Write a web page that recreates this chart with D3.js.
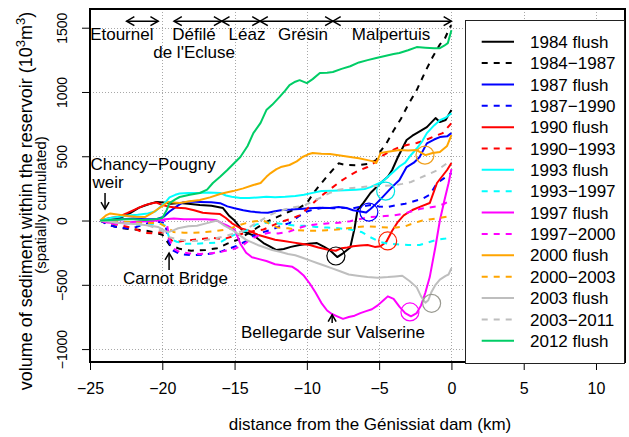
<!DOCTYPE html>
<html>
<head>
<meta charset="utf-8">
<script src="https://cdn.jsdelivr.net/npm/d3@7"></script>
<style>
body { margin: 0; background: #fff; }
text { font-family: "Liberation Sans", Arial, sans-serif; }
</style>
</head>
<body>
<div id="chart"></div>
<script>
// legend labels, in drawing order
const labels = ["1984 flush", "1984\u22121987", "1987 flush", "1987\u22121990", "1990 flush", "1990\u22121993",
  "1993 flush", "1993\u22121997", "1997 flush", "1997\u22122000", "2000 flush", "2000\u22122003",
  "2003 flush", "2003\u22122011", "2012 flush"];
const kmTicks = [-25, -20, -15, -10, -5, 0, 5, 10];
const volTicks = [-1000, -500, 0, 500, 1000, 1500];

// [distance km, cumulated volume 10^3 m3]
const flush1984 = [[-24.3,0],[-23.6,10],[-22.9,20],[-22.2,60],[-21.6,100],[-21.0,125],[-20.4,145],[-19.9,140],[-19.4,130],[-18.8,136],[-18.2,130],[-17.4,120],[-16.6,115],[-15.8,97],[-15.4,40],[-15.0,0],[-14.4,-85],[-13.7,-115],[-13.0,-175],[-12.6,-200],[-12.1,-230],[-11.6,-222],[-11.1,-205],[-10.5,-190],[-9.9,-180],[-9.3,-175],[-8.8,-205],[-8.4,-232],[-7.9,-284],[-7.5,-255],[-7.0,-210],[-6.7,-60],[-6.5,80],[-6.1,136],[-5.6,214],[-4.9,292],[-4.4,340],[-4.1,393],[-3.7,494],[-3.1,626],[-2.7,660],[-2.4,680],[-1.7,727],[-1.1,797],[-0.8,766],[-0.4,782],[0,859]];
const int1984 = [[-24.3,0],[-23.5,-40],[-22.8,-60],[-22.0,-70],[-21.3,-75],[-20.6,-90],[-20.0,-110],[-19.5,-190],[-18.8,-220],[-18.0,-235],[-17.0,-230],[-16.2,-215],[-15.5,-180],[-14.8,-150],[-14.2,-110],[-13.5,-60],[-12.8,-10],[-12.0,30],[-11.2,70],[-10.5,100],[-10.0,136],[-9.5,220],[-9.0,290],[-8.4,370],[-7.8,445],[-7.3,432],[-6.5,430],[-5.8,440],[-5.2,470],[-4.9,540],[-4.5,600],[-4.0,700],[-3.5,790],[-3.0,900],[-2.4,1015],[-1.8,1160],[-1.3,1272],[-0.8,1370],[-0.5,1404],[-0.1,1505],[0,1520]];
const flush1987 = [[-24.3,0],[-23.6,5],[-22.8,10],[-22.0,15],[-21.2,10],[-20.4,10],[-19.9,30],[-19.5,70],[-19.0,110],[-18.6,140],[-18.0,148],[-17.4,145],[-16.6,142],[-16.0,135],[-15.5,110],[-15.0,95],[-14.4,80],[-13.9,70],[-13.2,62],[-12.7,60],[-12.2,72],[-11.7,82],[-11.1,85],[-10.5,90],[-9.8,95],[-9.1,100],[-8.4,98],[-7.8,105],[-7.2,95],[-6.8,80],[-6.3,70],[-5.9,62],[-5.6,90],[-5.3,120],[-4.7,190],[-4.2,250],[-3.6,315],[-3.1,416],[-2.6,450],[-2.2,494],[-1.7,600],[-1.2,630],[-0.8,649],[-0.3,655],[0,680]];
const int1987 = [[-24.3,0],[-23.8,-30],[-23.2,-50],[-22.5,-60],[-21.8,-50],[-21.0,-20],[-20.3,-10],[-19.8,-20],[-19.6,-150],[-19.3,-230],[-18.8,-260],[-18.0,-270],[-17.2,-265],[-16.5,-255],[-15.9,-240],[-15.4,-220],[-14.8,-195],[-14.2,-160],[-13.6,-110],[-13.0,-90],[-12.4,-70],[-11.8,-40],[-11.2,-20],[-10.6,30],[-10.0,70],[-9.4,90],[-8.8,100],[-8.2,95],[-7.5,100],[-6.8,95],[-6.2,110],[-5.6,120],[-5.0,110],[-4.4,105],[-3.8,120],[-3.2,130],[-2.6,150],[-2.0,170],[-1.5,200],[-1.0,290],[-0.5,330],[0,370]];
const flush1990 = [[-24.3,0],[-23.6,20],[-23.0,30],[-22.4,60],[-21.8,90],[-21.2,120],[-20.7,135],[-20.4,140],[-20.0,120],[-19.6,110],[-19.0,100],[-18.4,95],[-17.8,80],[-17.2,60],[-16.6,55],[-16.0,50],[-15.6,20],[-15.2,-20],[-14.6,-60],[-14.0,-80],[-13.4,-110],[-12.8,-130],[-12.2,-150],[-11.6,-160],[-11.0,-170],[-10.4,-180],[-9.8,-190],[-9.2,-210],[-8.6,-225],[-8.0,-235],[-7.6,-215],[-7.2,-210],[-6.8,-200],[-6.3,-195],[-5.8,-190],[-5.3,-205],[-4.9,-200],[-4.5,-165],[-4.1,-80],[-3.7,-10],[-3.3,40],[-2.7,82],[-2.1,110],[-1.5,136],[-1.0,292],[-0.3,393],[0,447]];
const int1990 = [[-24.3,0],[-23.6,-20],[-22.8,-40],[-22.0,-60],[-21.3,-95],[-20.6,-100],[-20.0,-90],[-19.6,-130],[-19.2,-170],[-18.6,-160],[-17.8,-150],[-17.0,-140],[-16.5,-135],[-15.8,-145],[-15.0,-120],[-14.2,-95],[-13.6,-80],[-13.0,-70],[-12.4,-40],[-11.8,-10],[-11.2,10],[-10.5,40],[-9.8,110],[-9.1,183],[-8.2,260],[-7.6,310],[-7.0,354],[-6.4,390],[-5.8,416],[-5.2,460],[-4.7,509],[-4.2,540],[-3.6,572],[-3.0,590],[-2.4,603],[-1.8,625],[-1.3,650],[-0.6,680],[0,758]];
const flush1993 = [[-24.3,0],[-23.6,20],[-23.0,30],[-22.4,40],[-21.7,45],[-21.0,55],[-20.5,70],[-20.2,100],[-19.8,140],[-19.5,180],[-19.1,200],[-18.8,210],[-18.2,215],[-17.5,215],[-16.8,218],[-16.0,215],[-15.6,195],[-15.2,185],[-14.6,175],[-14.0,175],[-13.4,180],[-12.8,185],[-12.2,182],[-11.5,185],[-10.8,190],[-10.2,200],[-9.6,215],[-9.0,230],[-8.2,232],[-7.4,235],[-6.6,240],[-6.0,245],[-5.6,260],[-5.2,280],[-4.8,300],[-4.4,340],[-4.0,380],[-3.6,420],[-3.2,450],[-2.8,510],[-2.4,560],[-2.0,620],[-1.7,680],[-1.2,740],[-0.8,780],[-0.4,800],[0,835]];
const int1993 = [[-24.3,0],[-23.5,-10],[-22.6,-20],[-21.8,-30],[-21.0,-30],[-20.2,-20],[-19.8,-40],[-19.5,-140],[-19.0,-165],[-18.4,-180],[-17.6,-180],[-16.8,-175],[-16.0,-170],[-15.4,-130],[-14.8,-100],[-14.2,-80],[-13.5,-30],[-12.8,-15],[-12.2,-20],[-11.5,-30],[-10.8,-40],[-10.2,-40],[-9.4,-50],[-8.6,-55],[-7.8,-60],[-7.0,-70],[-6.2,-90],[-5.6,-130],[-5.0,-165],[-4.4,-180],[-3.8,-185],[-3.0,-190],[-2.2,-190],[-1.6,-170],[-1.0,-150],[-0.4,-140],[0,-130]];
const flush1997 = [[-24.3,0],[-23.8,-15],[-23.2,-20],[-22.5,-15],[-21.8,-10],[-21.0,-5],[-20.3,0],[-19.8,10],[-19.2,15],[-18.5,10],[-17.8,10],[-17.0,10],[-16.3,5],[-15.9,-20],[-15.5,-40],[-15.0,-70],[-14.6,-180],[-14.2,-250],[-13.8,-285],[-13.3,-300],[-12.8,-315],[-12.2,-340],[-11.6,-350],[-11.0,-360],[-10.6,-390],[-10.2,-430],[-9.8,-490],[-9.4,-560],[-9.0,-640],[-8.6,-700],[-8.3,-725],[-7.9,-745],[-7.5,-765],[-7.1,-750],[-6.7,-740],[-6.3,-720],[-5.9,-705],[-5.5,-690],[-5.1,-660],[-4.7,-620],[-4.4,-590],[-4.0,-610],[-3.6,-670],[-3.2,-720],[-2.8,-745],[-2.4,-720],[-2.1,-660],[-1.8,-560],[-1.5,-440],[-1.1,-200],[-0.8,0],[-0.5,150],[-0.2,290],[0,400]];
const int1997 = [[-24.3,0],[-23.7,-20],[-23.0,-30],[-22.3,-20],[-21.6,-10],[-20.8,0],[-20.0,5],[-19.7,-10],[-19.5,-150],[-19.2,-220],[-18.8,-245],[-18.2,-255],[-17.4,-260],[-16.6,-255],[-15.8,-240],[-15.0,-220],[-14.4,-190],[-13.8,-140],[-13.2,-110],[-12.6,-95],[-12.0,-100],[-11.3,-90],[-10.6,-60],[-10.0,-40],[-9.4,-30],[-8.8,-25],[-8.2,-20],[-7.6,-15],[-7.0,-5],[-6.4,10],[-5.8,25],[-5.2,30],[-4.6,35],[-4.0,40],[-3.4,50],[-2.8,70],[-2.2,90],[-1.6,100],[-1.0,110],[-0.5,130],[0,160]];
const flush2000 = [[-24.3,0],[-23.9,40],[-23.6,55],[-23.0,45],[-22.4,35],[-21.8,30],[-21.2,27],[-20.6,66],[-20.0,113],[-19.6,144],[-19.2,140],[-18.8,136],[-18.1,150],[-17.4,159],[-16.7,180],[-16.0,206],[-15.5,220],[-15.1,229],[-14.4,250],[-13.7,276],[-13.2,292],[-12.8,340],[-12.5,369],[-12.1,400],[-11.8,416],[-11.2,432],[-10.7,460],[-10.3,494],[-9.9,515],[-9.6,525],[-9.0,520],[-8.4,517],[-7.7,505],[-7.0,494],[-6.4,485],[-5.8,470],[-5.4,460],[-5.2,447],[-4.9,525],[-4.4,535],[-3.6,548],[-3.0,545],[-2.4,548],[-1.8,509],[-1.3,525],[-0.8,533],[-0.3,580],[0,665]];
const int2000 = [[-24.3,0],[-23.5,-5],[-22.6,-10],[-21.8,-15],[-21.0,-20],[-20.2,-20],[-19.6,-60],[-19.2,-90],[-18.5,-95],[-17.8,-95],[-17.0,-90],[-16.2,-80],[-15.5,-70],[-14.8,-40],[-14.2,-20],[-13.6,-5],[-13.0,0],[-12.5,-30],[-12.0,-55],[-11.3,-60],[-10.6,-75],[-10.0,-80],[-9.3,-80],[-8.6,-75],[-7.9,-70],[-7.2,-60],[-6.5,-50],[-5.8,-45],[-5.1,-50],[-4.4,-55],[-3.8,-55],[-3.2,-45],[-2.6,-20],[-2.0,0],[-1.4,10],[-0.8,20],[-0.3,30],[0,35]];
const flush2003 = [[-24.3,0],[-23.6,-10],[-23.0,-20],[-22.2,-25],[-21.5,-30],[-20.8,-40],[-20.3,-50],[-19.9,-75],[-19.6,-90],[-19.2,-75],[-18.9,-60],[-18.2,-45],[-17.6,-40],[-16.9,-20],[-16.2,0],[-15.7,-40],[-15.2,-70],[-14.7,-110],[-14.2,-150],[-13.8,-170],[-13.4,-190],[-12.9,-210],[-12.4,-230],[-11.8,-245],[-11.3,-260],[-10.8,-270],[-10.3,-290],[-9.8,-310],[-9.3,-330],[-8.8,-350],[-8.3,-370],[-7.7,-395],[-7.1,-420],[-6.5,-430],[-5.8,-440],[-5.1,-445],[-4.4,-440],[-3.9,-435],[-3.4,-430],[-2.9,-470],[-2.4,-520],[-2.1,-590],[-1.8,-640],[-1.6,-620],[-1.4,-560],[-1.1,-500],[-0.8,-460],[-0.4,-430],[-0.2,-420],[0,-370]];
const int2003 = [[-24.3,0],[-23.6,-10],[-22.8,-20],[-22.0,-20],[-21.2,-30],[-20.4,-60],[-19.9,-90],[-19.5,-130],[-18.8,-150],[-18.0,-160],[-17.2,-155],[-16.4,-140],[-15.6,-120],[-15.0,-100],[-14.4,-80],[-13.8,-40],[-13.2,0],[-12.6,40],[-12.0,70],[-11.4,90],[-10.8,105],[-10.2,115],[-9.6,150],[-9.0,180],[-8.4,215],[-7.8,240],[-7.2,250],[-6.6,255],[-6.0,262],[-5.4,268],[-4.8,270],[-4.0,272],[-3.4,285],[-2.8,300],[-2.2,330],[-1.6,360],[-1.0,390],[-0.5,430],[0,470]];
const flush2012 = [[-24.3,0],[-23.5,5],[-22.7,10],[-22.0,10],[-21.2,5],[-20.5,10],[-20.0,20],[-19.7,80],[-19.5,136],[-19.1,165],[-18.8,183],[-18.1,200],[-17.4,214],[-16.9,240],[-16.5,292],[-16.0,340],[-15.5,393],[-15.0,450],[-14.6,494],[-14.1,580],[-13.7,680],[-13.2,760],[-12.8,859],[-12.4,900],[-11.9,960],[-11.5,1010],[-11.2,1054],[-10.8,1080],[-10.5,1092],[-10.0,1069],[-9.6,1100],[-9.1,1147],[-8.6,1150],[-8.2,1155],[-7.6,1180],[-7.0,1200],[-6.4,1230],[-5.8,1248],[-5.2,1265],[-4.6,1280],[-4.0,1295],[-3.6,1303],[-3.0,1325],[-2.4,1349],[-1.8,1345],[-1.2,1340],[-0.8,1341],[-0.5,1360],[-0.25,1380],[0,1481]];

// reach boundaries along the top (km)
const reaches = [["Etournel", -22.47, -20.28], ["Défilé", -19.19, -15.89], ["Léaz", -15.89, -13.24],
  ["Grésin", -13.24, -8.2], ["Malpertuis", -8.2, 0]];
// circled minima: [km, volume, series index]
const marks = [[-7.99, -276, 0], [-5.71, 66, 2], [-4.41, -159, 4], [-4.55, 229, 6],
  [-2.87, -711, 8], [-1.83, 509, 10], [-1.37, -644, 12]];

const colors = ["black", "black", "#0000ff", "#0000ff", "#ff0000", "#ff0000", "#00ffff", "#00ffff",
  "#ff00ff", "#ff00ff", "#ffa500", "#ffa500", "#bebebe", "#bebebe", "#00cd66"];
const circleColors = {0: "black", 2: "#0000ff", 4: "#ff2200", 6: "#00e5e5", 8: "#ff00ff", 10: "#f0a020", 12: "#999990"};
const allData = [flush1984, int1984, flush1987, int1987, flush1990, int1990, flush1993, int1993,
  flush1997, int1997, flush2000, int2000, flush2003, int2003, flush2012];
const series = labels.map((name, i) => ({name: name, pts: allData[i], color: colors[i], dashed: i % 2 == 1 && i < 14}));

const width = 629, height = 437;
const L = 90, R = 625, T = 9, B = 362;
const FONT = '"Liberation Sans", Arial, sans-serif';

const svg = d3.select('#chart').append('svg')
  .attr('width', width).attr('height', height);

const x = d3.scaleLinear().domain([-25, 12.006]).range([L, R]);
const y = d3.scaleLinear().domain([-1100.5, 1645.5]).range([B, T]);

// grid
const grid = svg.append('g').attr('stroke', '#a8a8a8').attr('stroke-dasharray', '1,2').attr('stroke-width', 1);
grid.selectAll('.vg').data(kmTicks.slice(1)).enter().append('line')
  .attr('x1', d => Math.round(x(d)) + 0.5).attr('x2', d => Math.round(x(d)) + 0.5)
  .attr('y1', T).attr('y2', B);
grid.selectAll('.hg').data(volTicks).enter().append('line')
  .attr('x1', L).attr('x2', R)
  .attr('y1', d => Math.round(y(d)) + 0.5).attr('y2', d => Math.round(y(d)) + 0.5);

// series
const line = d3.line().x(d => x(d[0])).y(d => y(d[1]));
svg.append('g').selectAll('path').data(series).enter().append('path')
  .attr('d', d => line(d.pts))
  .attr('fill', 'none')
  .attr('stroke', d => d.color)
  .attr('stroke-width', 2)
  .attr('stroke-linejoin', 'round')
  .attr('stroke-dasharray', d => d.dashed ? '6,6' : null);

// circles
svg.append('g').selectAll('circle').data(marks).enter().append('circle')
  .attr('cx', d => x(d[0])).attr('cy', d => y(d[1])).attr('r', 9)
  .attr('fill', 'none').attr('stroke', d => circleColors[d[2]]).attr('stroke-width', 1.2);

// arrow helper: open head at (x2,y2)
function arrowHead(g, x1, y1, x2, y2, len) {
  const a = Math.atan2(y2 - y1, x2 - x1);
  const s = Math.PI / 6;
  g.append('path')
    .attr('d', `M${x2 - len * Math.cos(a - s)},${y2 - len * Math.sin(a - s)}L${x2},${y2}L${x2 - len * Math.cos(a + s)},${y2 - len * Math.sin(a + s)}`)
    .attr('fill', 'none').attr('stroke', 'black').attr('stroke-width', 1.5);
}
const ann = svg.append('g');
const topY = y(1551);
reaches.forEach(r => {
  const x1 = x(r[1]), x2 = x(r[2]);
  ann.append('line').attr('x1', x1).attr('x2', x2).attr('y1', topY).attr('y2', topY)
    .attr('stroke', 'black').attr('stroke-width', 1.5);
  arrowHead(ann, x2, topY, x1, topY, 9);
  arrowHead(ann, x1, topY, x2, topY, 9);
});

function vArrow(km, from, to) {
  ann.append('line').attr('x1', x(km)).attr('x2', x(km)).attr('y1', y(from)).attr('y2', y(to))
    .attr('stroke', 'black').attr('stroke-width', 1.5);
  arrowHead(ann, x(km), y(from), x(km), y(to), 8);
}
vArrow(-23.96, 215, 89);
vArrow(-19.53, -385, -253);
vArrow(-8.25, -797, -733);

const txt = [["Etournel", -22.8, 1404], ["Défilé", -17.8, 1404], ["de l'Ecluse", -17.8, 1264],
  ["Léaz", -14.14, 1404], ["Grésin", -10.27, 1404], ["Malpertuis", -4.18, 1404],
  ["Chancy\u2212Pougny", -20.64, 393], ["weir", -23.75, 253], ["Carnot Bridge", -19.09, -494],
  ["Bellegarde sur Valserine", -8.19, -914]];
ann.selectAll('text').data(txt).enter().append('text')
  .attr('x', d => x(d[1])).attr('y', d => y(d[2]))
  .attr('text-anchor', 'middle').attr('font-size', 17).text(d => d[0]);

// axes
const xAxis = svg.append('g').attr('transform', `translate(0,${B})`)
  .call(d3.axisBottom(x).tickValues(kmTicks).tickFormat(d3.format('d')).tickSize(8).tickSizeOuter(0));
xAxis.select('.domain').remove();
xAxis.selectAll('text').attr('font-size', 16).attr('y', 32).attr('dy', 0).attr('fill', 'black')
  .style('font-family', FONT);
xAxis.selectAll('line').attr('stroke', 'black');

const yAxis = svg.append('g').attr('transform', `translate(${L},0)`)
  .call(d3.axisLeft(y).tickValues(volTicks).tickFormat(d3.format('d')).tickSize(8).tickSizeOuter(0));
yAxis.select('.domain').remove();
yAxis.selectAll('text').attr('font-size', 14).attr('transform', 'rotate(-90)')
  .attr('x', 0).attr('y', -23).attr('dy', 0).attr('text-anchor', 'middle').attr('fill', 'black')
  .style('font-family', FONT);
yAxis.selectAll('line').attr('stroke', 'black');

// box
svg.append('rect').attr('x', L).attr('y', T).attr('width', R - L).attr('height', B - T)
  .attr('fill', 'none').attr('stroke', 'black').attr('stroke-width', 2);

// legend
const lg = svg.append('g');
lg.append('rect').attr('x', 465.5).attr('y', 20.5).attr('width', 159).attr('height', 343)
  .attr('fill', 'white').attr('stroke', '#222').attr('stroke-width', 1);
const rows = lg.selectAll('.row').data(series).enter().append('g')
  .attr('transform', (d, i) => `translate(0,${41.7 + i * 21.36})`);
rows.append('line').attr('x1', 481.7).attr('x2', 514).attr('y1', 0).attr('y2', 0)
  .attr('stroke', d => d.color).attr('stroke-width', 2)
  .attr('stroke-dasharray', d => d.dashed ? '6,6' : null);
rows.append('text').attr('x', 530).attr('y', 0).attr('dy', '0.36em')
  .attr('font-size', 17).text(d => d.name);

// titles
svg.append('text').attr('transform', 'translate(32,201) rotate(-90)')
  .attr('text-anchor', 'middle').attr('font-size', 18)
  .html('volume of sediment within the reservoir  (10<tspan dy="-7" font-size="13">3</tspan><tspan dy="7">m</tspan><tspan dy="-7" font-size="13">3</tspan><tspan dy="7">)</tspan>');
svg.append('text').attr('transform', 'translate(46,205) rotate(-90)')
  .attr('text-anchor', 'middle').attr('font-size', 15).text('(spatially cumulated)');
svg.append('text').attr('x', 370).attr('y', 430).attr('text-anchor', 'middle')
  .attr('font-size', 17).text('distance from the Génissiat dam (km)');
</script>
</body>
</html>
